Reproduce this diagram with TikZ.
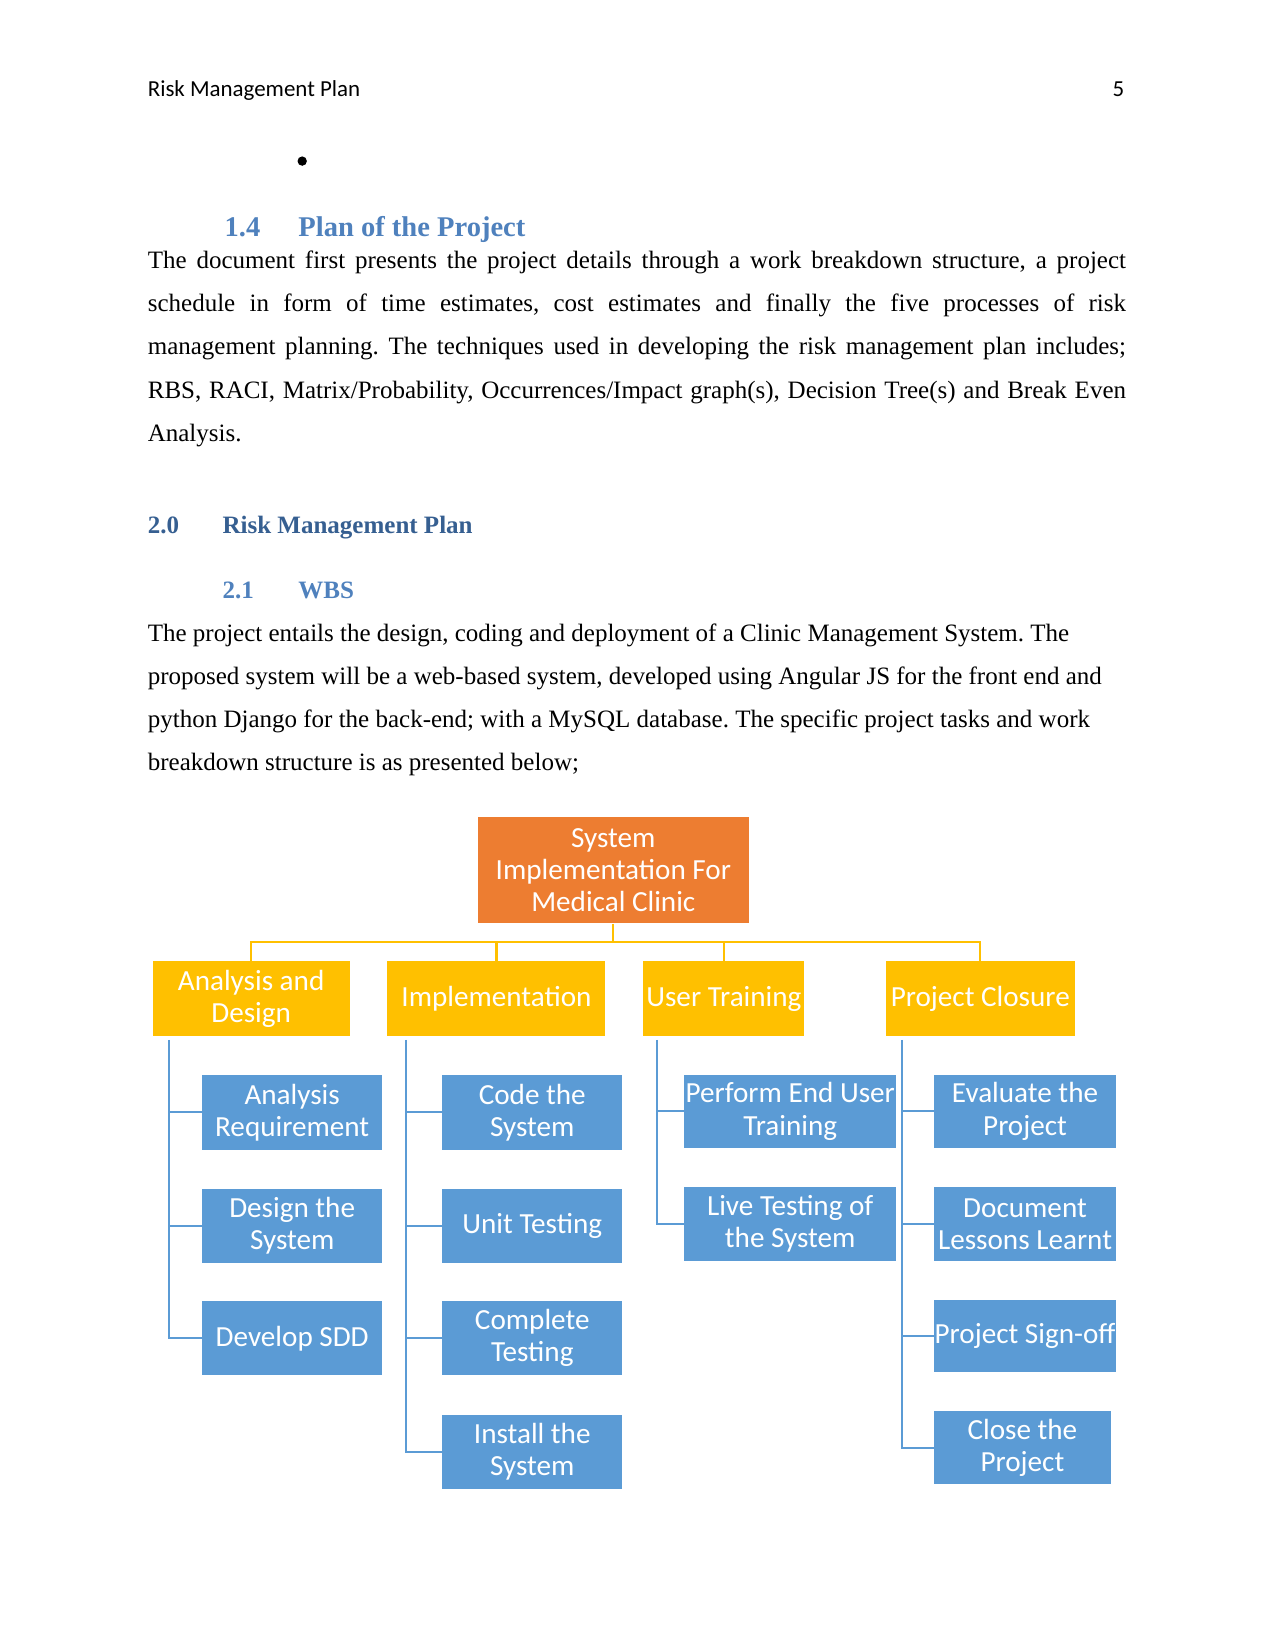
\documentclass[tikz,border=0pt]{standalone}
\usepackage{fontspec}
\setmainfont[Ligatures={TeX,NoCommon}]{Liberation Serif}
\newfontfamily\calfont{Carlito}
\definecolor{orgC}{HTML}{ED7D31}
\definecolor{ylwC}{HTML}{FFC000}
\definecolor{bluC}{HTML}{5B9BD5}
\definecolor{hdA}{HTML}{4F81BD}
\definecolor{hdB}{HTML}{365F91}
\frenchspacing
\begin{document}
\begin{tikzpicture}[x=0.50537pt,y=-0.50537pt,
  hdr/.style={inner sep=0pt, font=\calfont\fontsize{11}{13}\selectfont},
  body/.style={inner sep=0pt, anchor=base west, font=\frenchspacing\fontsize{12}{14}\selectfont},
  hA/.style={inner sep=0pt, anchor=base west, text=hdA, font=\bfseries\fontsize{13.7}{16}\selectfont},
  hB/.style={inner sep=0pt, anchor=base west, text=hdB, font=\bfseries\fontsize{12}{14}\selectfont},
  hC/.style={inner sep=0pt, anchor=base west, text=hdA, font=\bfseries\fontsize{12}{14}\selectfont},
  wbox/.style={inner sep=0pt, text=white, align=center, font=\calfont\fontsize{14}{15.4}\selectfont},
  rootbox/.style={wbox, fill=orgC, minimum width=129.88pt, minimum height=51.04pt},
  lvl/.style={wbox, fill=ylwC, minimum height=35.88pt},
  leaf/.style={wbox, fill=bluC, minimum height=35.6pt},
  yl/.style={draw=ylwC, line width=1pt},
  bl/.style={draw=bluC, line width=1pt}]
\useasboundingbox[fill=white] (0,0) rectangle (1211,1568);

% header
\node[hdr, anchor=base west] (hl) at (140,92) {Risk Management Plan};
\node[hdr, anchor=base east] (hr) at (1068,92) {5};
\node[circle, fill=black, inner sep=0pt, minimum size=4.5pt] (bul) at (287,153) {};

% section 1.4
\node[hA] (n14) at (213,225) {1.4};
\node[hA] (t14) at (283,225) {Plan of the Project};
\node[body] (par1) at (140,255) {\makebox[469.5pt][s]{The document first presents the project details through a work breakdown structure, a project}};
\node[body] (par2) at (140,296) {\makebox[469.5pt][s]{schedule in form of time estimates, cost estimates and finally the five processes of risk}};
\node[body] (par3) at (140,337) {\makebox[469.5pt][s]{management planning. The techniques used in developing the risk management plan includes;}};
\node[body] (par4) at (140,378) {\makebox[469.5pt][s]{RBS, RACI, Matrix/Probability, Occurrences/Impact graph(s), Decision Tree(s) and Break Even}};
\node[body] (par5) at (140,419) {Analysis.};

% section 2.0 / 2.1
\node[hB] (n20) at (140,507) {2.0};
\node[hB] (t20) at (211,507) {Risk Management Plan};
\node[hC] (n21) at (211,568) {2.1};
\node[hC] (t21) at (283,568) {WBS};
\node[body] (q1) at (140,609) {The project entails the design, coding and deployment of a Clinic Management System. The};
\node[body] (q2) at (140,650) {proposed system will be a web-based system, developed using Angular JS for the front end and};
\node[body] (q3) at (140,691) {python Django for the back-end; with a MySQL database. The specific project tasks and work};
\node[body] (q4) at (140,732) {breakdown structure is as presented below;};

% WBS diagram
\node[rootbox] (root) at (582.5,826.5) {System\\Implementation For\\Medical Clinic};
\node[lvl, minimum width=94.50pt] (A) at (238.5,948.5) {Analysis and\\Design};
\node[lvl, minimum width=104.61pt] (I) at (471.5,948.5) {Implementation};
\node[lvl, minimum width=77.32pt] (U) at (687.5,948.5) {User Training};
\node[lvl, minimum width=90.97pt] (P) at (931,948.5) {Project Closure};

\node[leaf, minimum width=86.42pt] (a1) at (277.5,1056.5) {Analysis\\Requirement};
\node[leaf, minimum width=86.42pt] (a2) at (277.5,1164) {Design the\\System};
\node[leaf, minimum width=86.42pt] (a3) at (277.5,1271) {Develop SDD};

\node[leaf, minimum width=86.42pt] (i1) at (505.5,1056.5) {Code the\\System};
\node[leaf, minimum width=86.42pt] (i2) at (505.5,1164) {Unit Testing};
\node[leaf, minimum width=86.42pt] (i3) at (505.5,1271) {Complete\\Testing};
\node[leaf, minimum width=86.42pt] (i4) at (505.5,1379) {Install the\\System};

\node[leaf, minimum width=101.58pt, minimum height=35.1pt] (u1) at (750.5,1055.5) {Perform End User\\Training};
\node[leaf, minimum width=101.58pt, minimum height=35.4pt] (u2) at (750.5,1162.5) {Live Testing of\\the System};

\node[leaf, minimum width=87.43pt, minimum height=35.1pt] (p1) at (973.5,1055.5) {Evaluate the\\Project};
\node[leaf, minimum width=87.43pt, minimum height=35.4pt] (p2) at (973.5,1162.5) {Document\\Lessons Learnt};
\node[leaf, minimum width=87.43pt, minimum height=34.4pt] (p3) at (973.5,1269) {Project Sign-off};
\node[leaf, minimum width=84.90pt, minimum height=35.1pt] (p4) at (971,1375) {Close the\\Project};

% yellow connectors
\coordinate (bar) at (582.5,895);
\draw[yl] (root.south) -- (root.south |- bar);
\draw[yl] (A.north) -- (A.north |- bar) -- (P.north |- bar) -- (P.north);
\draw[yl] (I.north) -- (I.north |- bar);
\draw[yl] (U.north) -- (U.north |- bar);

% blue connectors
\coordinate (s1) at (160.5,987.5);
\coordinate (s2) at (386,987.5);
\coordinate (s3) at (624,987.5);
\coordinate (s4) at (857,987.5);
\draw[bl] (s1) |- (a3.west);
\draw[bl] (a1.west) -- (a1.west -| s1);
\draw[bl] (a2.west) -- (a2.west -| s1);
\draw[bl] (s2) |- (i4.west);
\draw[bl] (i1.west) -- (i1.west -| s2);
\draw[bl] (i2.west) -- (i2.west -| s2);
\draw[bl] (i3.west) -- (i3.west -| s2);
\draw[bl] (s3) |- (u2.west);
\draw[bl] (u1.west) -- (u1.west -| s3);
\draw[bl] (s4) |- (p4.west);
\draw[bl] (p1.west) -- (p1.west -| s4);
\draw[bl] (p2.west) -- (p2.west -| s4);
\draw[bl] (p3.west) -- (p3.west -| s4);
\end{tikzpicture}
\end{document}
